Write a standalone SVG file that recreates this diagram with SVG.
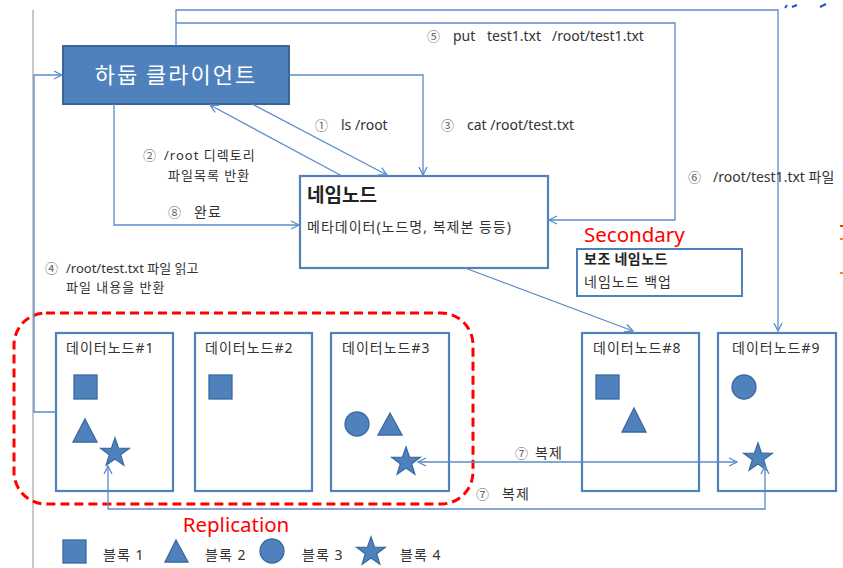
<svg xmlns="http://www.w3.org/2000/svg" width="843" height="568" viewBox="0 0 843 568">
<style>
.t{font-family:"Noto Sans","Noto Sans CJK KR",sans-serif;font-size:14px;fill:#333}
.k{letter-spacing:1px}
.s{font-size:13px}
.n{font-family:"Noto Sans CJK KR",sans-serif;font-size:13px;fill:#666}
.ln{fill:none;stroke:#5B8BC9;stroke-width:1.3}
.box{fill:#fff;stroke:#4F81BD;stroke-width:2.2}
.shp{fill:#4F81BD;stroke:#3A6A9E;stroke-width:1.3}
.red{font-family:"Noto Sans","Liberation Sans",sans-serif;font-size:20.5px;fill:#FF0000}
</style>
<defs>
<marker id="a" viewBox="0 0 10 10" refX="9" refY="5" markerWidth="10" markerHeight="10" markerUnits="userSpaceOnUse" orient="auto-start-reverse">
<path d="M1,1 L9,5 L1,9" fill="none" stroke="#5B8BC9" stroke-width="1.3"/>
</marker>
<path id="star" d="M0,-15 L3.53,-4.85 L14.27,-4.64 L5.71,1.85 L8.82,12.14 L0,6 L-8.82,12.14 L-5.71,1.85 L-14.27,-4.64 L-3.53,-4.85 Z"/>
</defs>
<rect width="843" height="568" fill="#fff"/>
<line x1="33" y1="10" x2="33" y2="568" stroke="#C8C8C8" stroke-width="2"/>

<g id="client">
<rect x="63" y="46" width="226" height="58" fill="#4F81BD" stroke="#3B6595" stroke-width="2"/>
<text x="176" y="83" text-anchor="middle" font-family="&quot;Noto Sans CJK KR&quot;,sans-serif" font-size="22" letter-spacing="2" fill="#fff">하둡 클라이언트</text>
</g>

<g id="namenode">
<rect class="box" x="300" y="176" width="248" height="92"/>
<text x="307" y="202" font-family="&quot;Noto Sans CJK KR&quot;,sans-serif" font-size="19" font-weight="bold" fill="#222">네임노드</text>
<text class="t k" x="307" y="232">메타데이터(노드명, 복제본 등등)</text>
</g>

<g id="secondary">
<text class="red" x="584" y="242">Secondary</text>
<rect x="577" y="249" width="165" height="47" fill="#fff" stroke="#4F81BD" stroke-width="2"/>
<text x="584" y="264" font-family="&quot;Noto Sans CJK KR&quot;,sans-serif" font-size="14" font-weight="bold" letter-spacing="0.5" fill="#222">보조 네임노드</text>
<text class="t k" x="584" y="287">네임노드 백업</text>
</g>

<g id="replication">
<rect x="14" y="313" width="459" height="191" rx="32" ry="32" fill="none" stroke="#FF0000" stroke-width="3" stroke-dasharray="9,5"/>
<text class="red" x="236" y="532" text-anchor="middle">Replication</text>
</g>

<g id="dn1">
<rect class="box" x="56" y="333" width="117" height="158"/>
<text class="t k" x="66" y="353">데이터노드#1</text>
<rect class="shp" x="74" y="375" width="23" height="24"/>
<path class="shp" d="M85,419 L97,442 L73,442 Z"/>
<use href="#star" class="shp" x="115" y="453"/>
</g>

<g id="dn2">
<rect class="box" x="195" y="333" width="117" height="158"/>
<text class="t k" x="205" y="353">데이터노드#2</text>
<rect class="shp" x="209" y="375" width="23" height="24"/>
</g>

<g id="dn3">
<rect class="box" x="331" y="333" width="118" height="158"/>
<text class="t k" x="342" y="353">데이터노드#3</text>
<circle class="shp" cx="357" cy="424" r="12"/>
<path class="shp" d="M390,413 L402,435 L378,435 Z"/>
<use href="#star" class="shp" x="406" y="462"/>
</g>

<g id="dn8">
<rect class="box" x="582" y="333" width="117" height="158"/>
<text class="t k" x="593" y="353">데이터노드#8</text>
<rect class="shp" x="596" y="375" width="23" height="24"/>
<path class="shp" d="M634,408 L646,432 L622,432 Z"/>
</g>

<g id="dn9">
<rect class="box" x="718" y="333" width="118" height="158"/>
<text class="t k" x="732" y="353">데이터노드#9</text>
<circle class="shp" cx="744" cy="387" r="12"/>
<use href="#star" class="shp" x="758" y="458"/>
</g>

<g id="connectors">
<path class="ln" d="M57,412 H34 V75 H62" marker-end="url(#a)"/>
<path class="ln" d="M176,46 V10 H778 V331" marker-end="url(#a)"/>
<path class="ln" d="M176,23 H675 V220 H549" marker-end="url(#a)"/>
<path class="ln" d="M289,75 H423 V175" marker-end="url(#a)"/>
<path class="ln" d="M252,104 L387,175" marker-end="url(#a)"/>
<path class="ln" d="M342,176 L210,105" marker-end="url(#a)"/>
<path class="ln" d="M114,104 V225 H299" marker-end="url(#a)"/>
<path class="ln" d="M465,268 L633,331" marker-end="url(#a)"/>
<path class="ln" d="M418,462 H737" marker-start="url(#a)" marker-end="url(#a)"/>
<path class="ln" d="M108,466 V509 H765 V466" marker-start="url(#a)" marker-end="url(#a)"/>
</g>

<g id="labels">
<text class="t" y="41"><tspan class="n" x="427">⑤</tspan><tspan x="453">put</tspan><tspan x="487">test1.txt</tspan><tspan x="552">/root/test1.txt</tspan></text>
<text class="t" y="130"><tspan class="n" x="315">①</tspan><tspan x="341">ls /root</tspan></text>
<text class="t" y="130"><tspan class="n" x="441">③</tspan><tspan x="467">cat /root/test.txt</tspan></text>
<text class="t s" y="160"><tspan class="n" x="143">②</tspan><tspan class="k" x="164">/root 디렉토리</tspan></text>
<text class="t k s" x="168" y="180">파일목록 반환</text>
<text class="t" y="217"><tspan class="n" x="168">⑧</tspan><tspan class="k" x="194">완료</tspan></text>
<text class="t" y="182"><tspan class="n" x="688">⑥</tspan><tspan x="713">/root/test1.txt 파일</tspan></text>
<text class="t s" y="273"><tspan class="n" x="45">④</tspan><tspan x="66">/root/test.txt 파일 읽고</tspan></text>
<text class="t k s" x="66" y="292">파일 내용을 반환</text>
<text class="t" y="458"><tspan class="n" x="515">⑦</tspan><tspan class="k" x="535">복제</tspan></text>
<text class="t" y="499"><tspan class="n" x="476">⑦</tspan><tspan class="k" x="502">복제</tspan></text>
</g>

<g id="legend">
<rect class="shp" x="63" y="540" width="23" height="23"/>
<text class="t k" x="103" y="560">블록 1</text>
<path class="shp" d="M176,540 L188,562 L165,562 Z"/>
<text class="t k" x="205" y="560">블록 2</text>
<circle class="shp" cx="272" cy="551" r="12"/>
<text class="t k" x="302" y="560">블록 3</text>
<use href="#star" class="shp" x="371" y="552"/>
<text class="t k" x="400" y="560">블록 4</text>
</g>

<g id="edge-marks">
<path d="M785,8 l2,-3 M792,7 l5,-2 M820,7 l6,-3" stroke="#2255CC" stroke-width="2" fill="none"/>
<rect x="840" y="225" width="3" height="2" fill="#FF3300"/>
<rect x="840" y="238" width="3" height="2" fill="#FF8800"/>
<rect x="840" y="272" width="3" height="2" fill="#FF8800"/>
</g>
</svg>
